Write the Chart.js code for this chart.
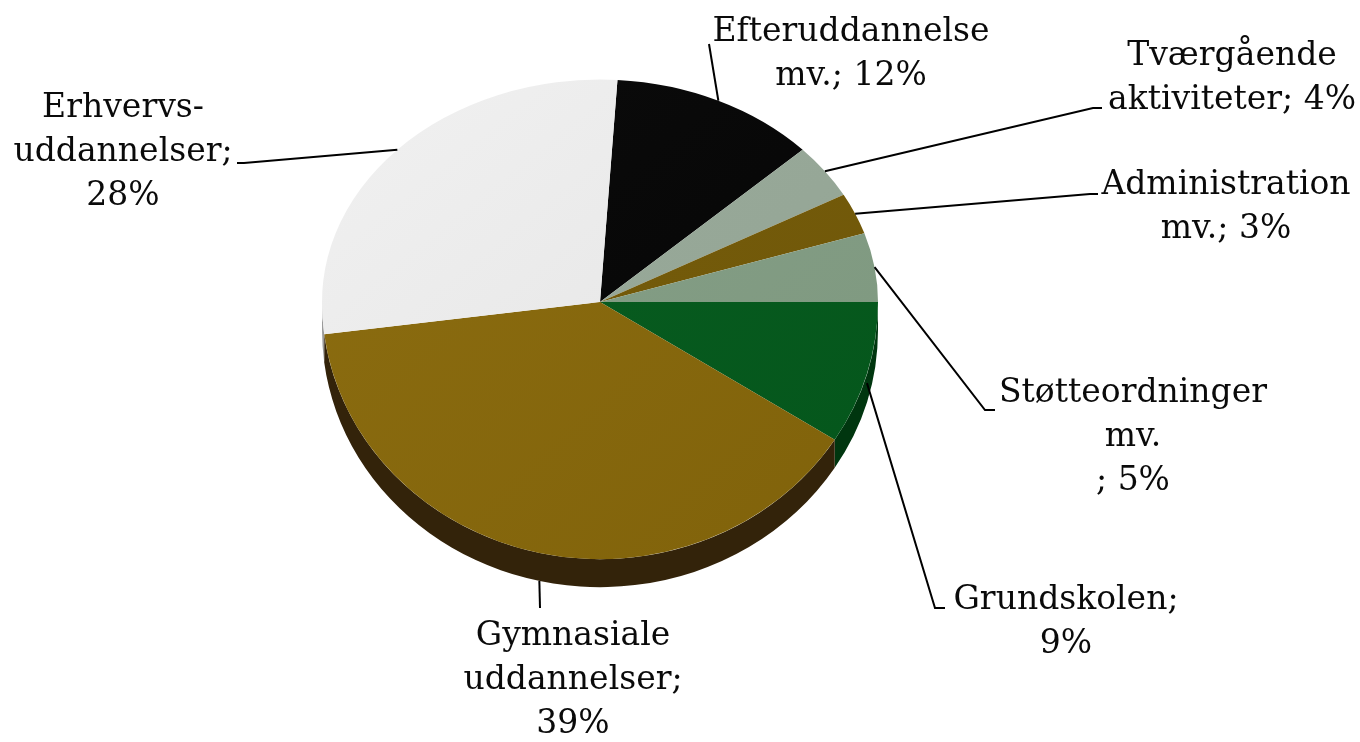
<!DOCTYPE html>
<html>
<head>
<meta charset="utf-8">
<script src="https://cdn.jsdelivr.net/npm/chart.js@4.4.1/dist/chart.umd.min.js"></script>
<style>
  html, body { margin: 0; padding: 0; background: #fff; }
  #wrap { width: 1360px; height: 742px; position: relative; }
</style>
</head>
<body>
<div id="wrap"><canvas id="pie" width="1360" height="742"></canvas></div>
<script>
// data
const categories = ['Efteruddannelse mv.', 'Tværgående aktiviteter', 'Administration mv.', 'Støtteordninger mv.', 'Grundskolen', 'Gymnasiale uddannelser', 'Erhvervsuddannelser']
const shares = [12, 4, 3, 5, 9, 39, 28]
// label text, {v} gets the share
const labelLines = [
    ['Efteruddannelse', 'mv.; {v}%'],
    ['Tværgående', 'aktiviteter; {v}%'],
    ['Administration', 'mv.; {v}%'],
    ['Støtteordninger', 'mv.', '; {v}%'],
    ['Grundskolen;', '{v}%'],
    ['Gymnasiale', 'uddannelser;', '{v}%'],
    ['Erhvervs-', 'uddannelser;', '{v}%']
]

// styles
const topLeft = ['#0c0c0c', '#9aab9b', '#775d0c', '#86a088', '#0a5e22', '#8d6e11', '#f1f1f1']
const topRight = ['#040404', '#93a494', '#6f5708', '#7e987f', '#04561b', '#80620a', '#e2e2e2']
const sideColors = ['#000000', '#5e6b5f', '#3a2d05', '#4f6150', '#00360f', '#33230a', '#9a9a9a']
const tiltTop = 0.80      // far half of the pie is squashed more
const tiltBottom = 0.925  // near half
const depth = 28          // thickness of the side
const fontFamily = '"DejaVu Serif", "Liberation Serif", serif'
const fontSize = 33
const lineHeight = 44

// label layout: text centre x, first line centre y, leader end points
const labelLayout = [
    { x: 851, y: 32, leader: [[709, 44]] },
    { x: 1232, y: 56, leader: [[1093, 108], [1102, 108]] },
    { x: 1226, y: 185, leader: [[1090, 194], [1098, 194]] },
    { x: 1133, y: 393, leader: [[985, 410], [995, 410]] },
    { x: 1066, y: 600, leader: [[935, 608], [945, 608]] },
    { x: 573, y: 636, leader: [[540, 608]] },
    { x: 123, y: 108, leader: [[244, 163], [237, 163]] }
]

function sliceGradient(context) {
    const chart = context.chart
    const area = chart.chartArea
    if (!area) return topRight[context.dataIndex]
    const g = chart.ctx.createLinearGradient(area.left, area.top, area.right, area.bottom)
    g.addColorStop(0, topLeft[context.dataIndex])
    g.addColorStop(1, topRight[context.dataIndex])
    return g
}

// start: 3D look
const pie3d = {
    id: 'pie3d',
    beforeDatasetsDraw(chart) {
        const ctx = chart.ctx
        const arcs = chart.getDatasetMeta(0).data
        const cx = arcs[0].x, cy = arcs[0].y
        const w = chart.width, h = chart.height
        // side
        ctx.save()
        arcs.forEach(function (arc, i) {
            const r = arc.outerRadius
            for (let k = -1; k <= 1; k++) {
                const s = Math.max(arc.startAngle + 2 * Math.PI * k, 0)
                const e = Math.min(arc.endAngle + 2 * Math.PI * k, Math.PI)
                if (e <= s) continue
                ctx.beginPath()
                ctx.ellipse(cx, cy, r, r * tiltBottom, 0, s, e)
                ctx.ellipse(cx, cy + depth, r, r * tiltBottom, 0, e, s, true)
                ctx.closePath()
                ctx.fillStyle = sideColors[i]
                ctx.fill()
            }
        })
        ctx.restore()
        // top face: far half and near half
        const halves = [[0, cy + 1, tiltTop], [cy, h - cy, tiltBottom]]
        halves.forEach(function (half) {
            ctx.save()
            ctx.beginPath()
            ctx.rect(0, half[0], w, half[1])
            ctx.clip()
            ctx.translate(0, cy)
            ctx.scale(1, half[2])
            ctx.translate(0, -cy)
            arcs.forEach(function (arc) { arc.draw(ctx) })
            ctx.restore()
        })
        return false
    }
}
// end: 3D look

// start: labels
const pieLabels = {
    id: 'pieLabels',
    afterDraw(chart) {
        const ctx = chart.ctx
        const arcs = chart.getDatasetMeta(0).data
        const cx = arcs[0].x, cy = arcs[0].y
        ctx.save()
        arcs.forEach(function (arc, i) {
            const mid = (arc.startAngle + arc.endAngle) / 2
            const r = arc.outerRadius
            const s = Math.sin(mid)
            const sx = cx + r * Math.cos(mid)
            let sy = cy + r * s * (s > 0 ? tiltBottom : tiltTop)
            if (s > 0) sy += depth * Math.min(1, s * 1.2)
            const lay = labelLayout[i]
            ctx.beginPath()
            ctx.moveTo(sx, sy)
            lay.leader.forEach(function (p) { ctx.lineTo(p[0], p[1]) })
            ctx.strokeStyle = '#000'
            ctx.lineWidth = 2
            ctx.stroke()

            ctx.fillStyle = '#0a0a0a'
            ctx.font = fontSize + 'px ' + fontFamily
            ctx.textAlign = 'center'
            ctx.textBaseline = 'middle'
            labelLines[i].forEach(function (line, j) {
                ctx.fillText(line.replace('{v}', shares[i]), lay.x, lay.y + j * lineHeight)
            })
        })
        ctx.restore()
    }
}
// end: labels

new Chart(document.getElementById('pie'), {
    type: 'pie',
    data: {
        labels: categories,
        datasets: [{
            data: shares,
            backgroundColor: sliceGradient,
            borderWidth: 0,
            clip: false
        }]
    },
    options: {
        responsive: false,
        animation: false,
        events: [],
        rotation: 3.6,
        layout: {
            padding: { left: 322, right: 482, top: 24, bottom: 162 }
        },
        plugins: {
            legend: { display: false },
            tooltip: { enabled: false }
        }
    },
    plugins: [pie3d, pieLabels]
})
</script>
</body>
</html>
